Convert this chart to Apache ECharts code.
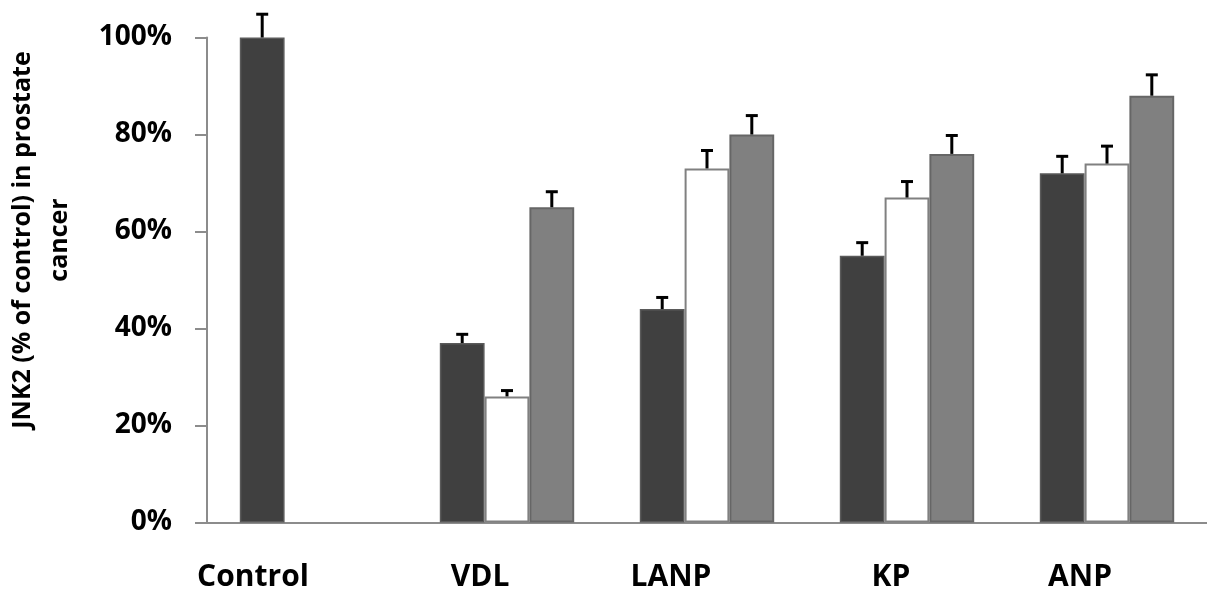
<!DOCTYPE html>
<html>
<head>
<meta charset="utf-8">
<script src="https://cdn.jsdelivr.net/npm/echarts@6/dist/echarts.min.js"></script>
<style>html,body{margin:0;padding:0;background:#fff}#c{width:1207px;height:594px}</style>
</head>
<body>
<div id="c"></div>
<script>
// ---- data ----
var categories = ['Control', 'VDL', 'LANP', 'KP', 'ANP'];
var darkValues = [100, 37, 44, 55, 72];
var darkErrors = [4.8, 1.8, 2.4, 2.7, 3.5];
var whiteValues = ['-', 26, 73, 67, 74];
var whiteErrors = ['-', 1.2, 3.7, 3.3, 3.6];
var grayValues = ['-', 65, 80, 76, 88];
var grayErrors = ['-', 3.2, 3.9, 3.8, 4.3];
var yTicks = [0, 20, 40, 60, 80, 100];
var yTitle = 'JNK2 (% of control) in prostate\ncancer';

// ---- layout ----
var FONT = '"Open Sans", "Noto Sans", sans-serif';
var labelX = [253, 480, 671, 891, 1080];
var labelY = 577;

var chart = echarts.init(document.getElementById('c'), null, {renderer: 'canvas'});

function errSeries(values, errors, slot) {
  var data = [];
  for (var i = 0; i < categories.length; i++) {
    if (values[i] === '-') continue;
    data.push([i, values[i], errors[i]]);
  }
  return {
    type: 'custom',
    z: 5,
    data: data,
    renderItem: function (params, api) {
      var idx = api.value(0), v = api.value(1), e = api.value(2);
      var band = api.size([1, 0])[0];
      var bw = band * 0.224;
      var p0 = api.coord([idx, v]);
      var p1 = api.coord([idx, v + e]);
      var x = p0[0] + slot * bw;
      var half = 6;
      return {
        type: 'group',
        children: [
          {type: 'line', shape: {x1: x, y1: p0[1], x2: x, y2: p1[1]}, style: {stroke: '#000', lineWidth: 3}},
          {type: 'line', shape: {x1: x - half, y1: p1[1], x2: x + half, y2: p1[1]}, style: {stroke: '#000', lineWidth: 3}}
        ]
      };
    }
  };
}

var graphics = categories.map(function (c, i) {
  return {
    type: 'text', left: null, x: labelX[i], y: labelY,
    style: {text: c, font: 'bold 30px ' + FONT, fill: '#000', textAlign: 'center', textVerticalAlign: 'middle'}
  };
});
graphics.push({
  type: 'text', x: 41, y: 240, rotation: Math.PI / 2,
  style: {text: yTitle, font: 'bold 25px ' + FONT, fill: '#000', textAlign: 'center', textVerticalAlign: 'middle', lineHeight: 37}
});

chart.setOption({
  animation: false,
  backgroundColor: '#fff',
  grid: {left: 207, top: 37.5, width: 1003.5, height: 485},
  xAxis: {
    type: 'category',
    data: categories,
    axisLine: {lineStyle: {color: '#8c8c8c', width: 2}},
    axisTick: {show: false},
    axisLabel: {show: false},
    splitLine: {show: false}
  },
  yAxis: {
    type: 'value',
    min: 0, max: 100, interval: 20,
    axisLine: {show: true, lineStyle: {color: '#8c8c8c', width: 2}},
    axisTick: {show: true, length: 12, lineStyle: {color: '#8c8c8c', width: 2}},
    splitLine: {show: false},
    axisLabel: {
      margin: 35,
      fontFamily: FONT, fontWeight: 'bold', fontSize: 28, color: '#000',
      formatter: function (v) { return yTicks.indexOf(v) >= 0 ? v + '%' : ''; }
    }
  },
  graphic: graphics,
  series: [
    {type: 'bar', data: darkValues, barWidth: '22.4%', barGap: '0%',
     itemStyle: {color: '#404040', borderColor: '#5a5a5a', borderWidth: 1.5}},
    {type: 'bar', data: whiteValues, barWidth: '22.4%', barGap: '0%',
     itemStyle: {color: '#ffffff', borderColor: '#808080', borderWidth: 2}},
    {type: 'bar', data: grayValues, barWidth: '22.4%', barGap: '0%',
     itemStyle: {color: '#808080', borderColor: '#666666', borderWidth: 2}},
    errSeries(darkValues, darkErrors, -1),
    errSeries(whiteValues, whiteErrors, 0),
    errSeries(grayValues, grayErrors, 1)
  ]
});
</script>
</body>
</html>
